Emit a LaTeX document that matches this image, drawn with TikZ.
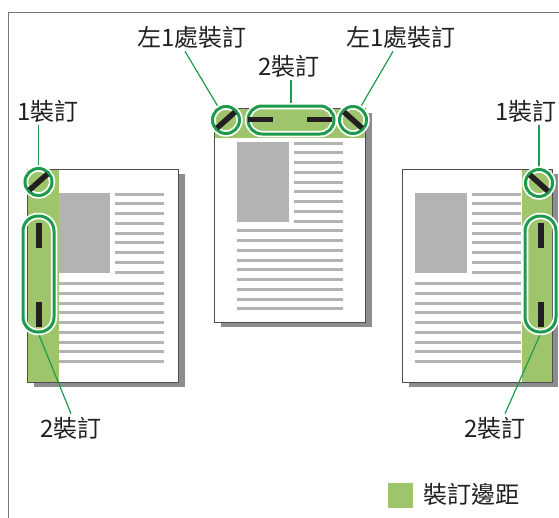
\documentclass[tikz,border=0pt]{standalone}
\usepackage{fontspec}
\newfontfamily\cjk{Noto Sans CJK TC}
\definecolor{band}{RGB}{158,197,108}
\definecolor{ring}{RGB}{30,154,76}
\definecolor{txt}{RGB}{35,31,32}
\definecolor{greyc}{RGB}{178,179,181}
\definecolor{shadowc}{RGB}{140,141,143}
\definecolor{edgec}{RGB}{77,77,79}
\definecolor{framec}{RGB}{120,120,120}
\tikzset{
  lbl/.style={font=\cjk\fontsize{24}{24}\selectfont, text=txt, inner sep=3pt},
  ringc/.style={circle, draw=ring, line width=3pt, minimum size=27pt, inner sep=0pt,
    preaction={draw=white, line width=6.5pt}},
  ringo/.style={rectangle, rounded corners=#1, draw=ring, line width=3pt, inner sep=0pt,
    preaction={draw=white, line width=6.5pt}},
  leader/.style={draw=ring, line width=1.2pt},
  staple/.style={draw=txt, line width=5.5pt},
  txtline/.style={draw=greyc, line width=3pt},
  pageedge/.style={draw=edgec, line width=1pt},
}
\begin{document}
\begin{tikzpicture}[x=1pt,y=-1pt]
\useasboundingbox (0,0) rectangle (559,517);
% frame
\draw[framec, line width=1.3pt] (8.5,520) -- (8.5,12.7) -- (562,12.7);

% ---------- left page ----------
\fill[shadowc] (34,174) rectangle (185,387);
\fill[white] (27,169) rectangle (178,382);
\fill[band] (27,169) rectangle (59,382);
\fill[greyc] (59,193) rectangle (110,273);
\foreach \i in {0,...,8} {
  \draw[txtline] (115,194+9.75*\i) -- (164,194+9.75*\i);
  \draw[txtline] (59,283.5+9.75*\i) -- (164,283.5+9.75*\i);
}
\draw[pageedge] (27,169) rectangle (178,382);

% ---------- middle page ----------
\fill[shadowc] (221,113) rectangle (372,327);
\fill[white] (214,108) rectangle (365,322);
\fill[band] (214,108) rectangle (365,138);
\fill[greyc] (237,142) rectangle (289,222);
\foreach \i in {0,...,8} {
  \draw[txtline] (294,143+9.75*\i) -- (343,143+9.75*\i);
  \draw[txtline] (237,230.75+9.75*\i) -- (343,230.75+9.75*\i);
}
\draw[pageedge] (214,108) rectangle (365,322);

% ---------- right page ----------
\fill[shadowc] (409,174) rectangle (558,387);
\fill[white] (402,169) rectangle (552,382);
\fill[band] (522,169) rectangle (552,382);
\fill[greyc] (415,193) rectangle (467,273);
\foreach \i in {0,...,8} {
  \draw[txtline] (472,194+9.75*\i) -- (521,194+9.75*\i);
  \draw[txtline] (415,283.5+9.75*\i) -- (521,283.5+9.75*\i);
}
\draw[pageedge] (402,169) rectangle (552,382);

% ---------- labels ----------
\node[lbl] (lblL1) at (48,111) {1裝訂};
\node[lbl] (lblR1) at (526,111) {1裝訂};
\node[lbl] (lblTL) at (192,37) {左1處裝訂};
\node[lbl] (lblTR) at (401,37) {左1處裝訂};
\node[lbl] (lblTM) at (289,66) {2裝訂};
\node[lbl] (lblL2) at (71,428) {2裝訂};
\node[lbl] (lblR2) at (495,428) {2裝訂};

% ---------- rings (coordinates of centres) ----------
\coordinate (pL1) at (38.5,182);
\coordinate (pTL) at (226,120);
\coordinate (pTR) at (353,120);
\coordinate (pR1) at (539,183);
\coordinate (pL2) at (38.5,274);
\coordinate (pR2) at (540.5,274);
\coordinate (pTM) at (291,120);

% leaders (drawn under the rings)
\path (pL1) node[circle, minimum size=30pt, inner sep=0pt] (gL1) {};
\path (pR1) node[circle, minimum size=30pt, inner sep=0pt] (gR1) {};
\path (pTL) node[circle, minimum size=30pt, inner sep=0pt] (gTL) {};
\path (pTR) node[circle, minimum size=30pt, inner sep=0pt] (gTR) {};
\path (pTM) node[rectangle, minimum width=89pt, minimum height=31pt, inner sep=0pt] (gTM) {};
\path (pL2) node[rectangle, minimum width=34pt, minimum height=119pt, inner sep=0pt] (gL2) {};
\path (pR2) node[rectangle, minimum width=34pt, minimum height=119pt, inner sep=0pt] (gR2) {};

\draw[leader] (lblL1.south -| gL1) -- (gL1.north);
\draw[leader] (lblR1.south -| gR1) -- (gR1.north);
\draw[leader] ([xshift=-7pt]lblTL.south) -- (gTL);
\draw[leader] ([xshift=-8pt]lblTR.south) -- (gTR);
\draw[leader] (lblTM.south -| gTM) -- (gTM.north);
\draw[leader] (gL2.south) -- (lblL2.north);
\draw[leader] (gR2.south) -- ([xshift=10pt]lblR2.north);

% rings
\node[ringc] (cL1) at (pL1) {};
\node[ringc] (cR1) at (pR1) {};
\node[ringc] (cTL) at (pTL) {};
\node[ringc] (cTR) at (pTR) {};
\node[ringo=14pt, minimum width=86pt, minimum height=28pt] (oTM) at (pTM) {};
\node[ringo=15pt, minimum width=31pt, minimum height=116pt] (oL2) at (pL2) {};
\node[ringo=15pt, minimum width=31pt, minimum height=116pt] (oR2) at (pR2) {};

% staples
\draw[staple] ([shift={(-9,8)}]cL1.center) -- ([shift={(9,-8)}]cL1.center);
\draw[staple] ([shift={(-9,8)}]cTL.center) -- ([shift={(9,-8)}]cTL.center);
\draw[staple] ([shift={(-9,-8)}]cTR.center) -- ([shift={(9,8)}]cTR.center);
\draw[staple] ([shift={(-9,-8)}]cR1.center) -- ([shift={(9,8)}]cR1.center);
\draw[staple] (39,223) -- (39,248);
\draw[staple] (39,302) -- (39,327);
\draw[staple] (541,223) -- (541,248);
\draw[staple] (541,302) -- (541,327);
\draw[staple] (248,119.5) -- (273,119.5);
\draw[staple] (307,119.5) -- (332,119.5);

% legend
\node[fill=band, minimum size=25pt, inner sep=0pt] (legbox) at (400,495.5) {};
\node[lbl] (legtxt) at (471,494) {裝訂邊距};
\end{tikzpicture}
\end{document}
